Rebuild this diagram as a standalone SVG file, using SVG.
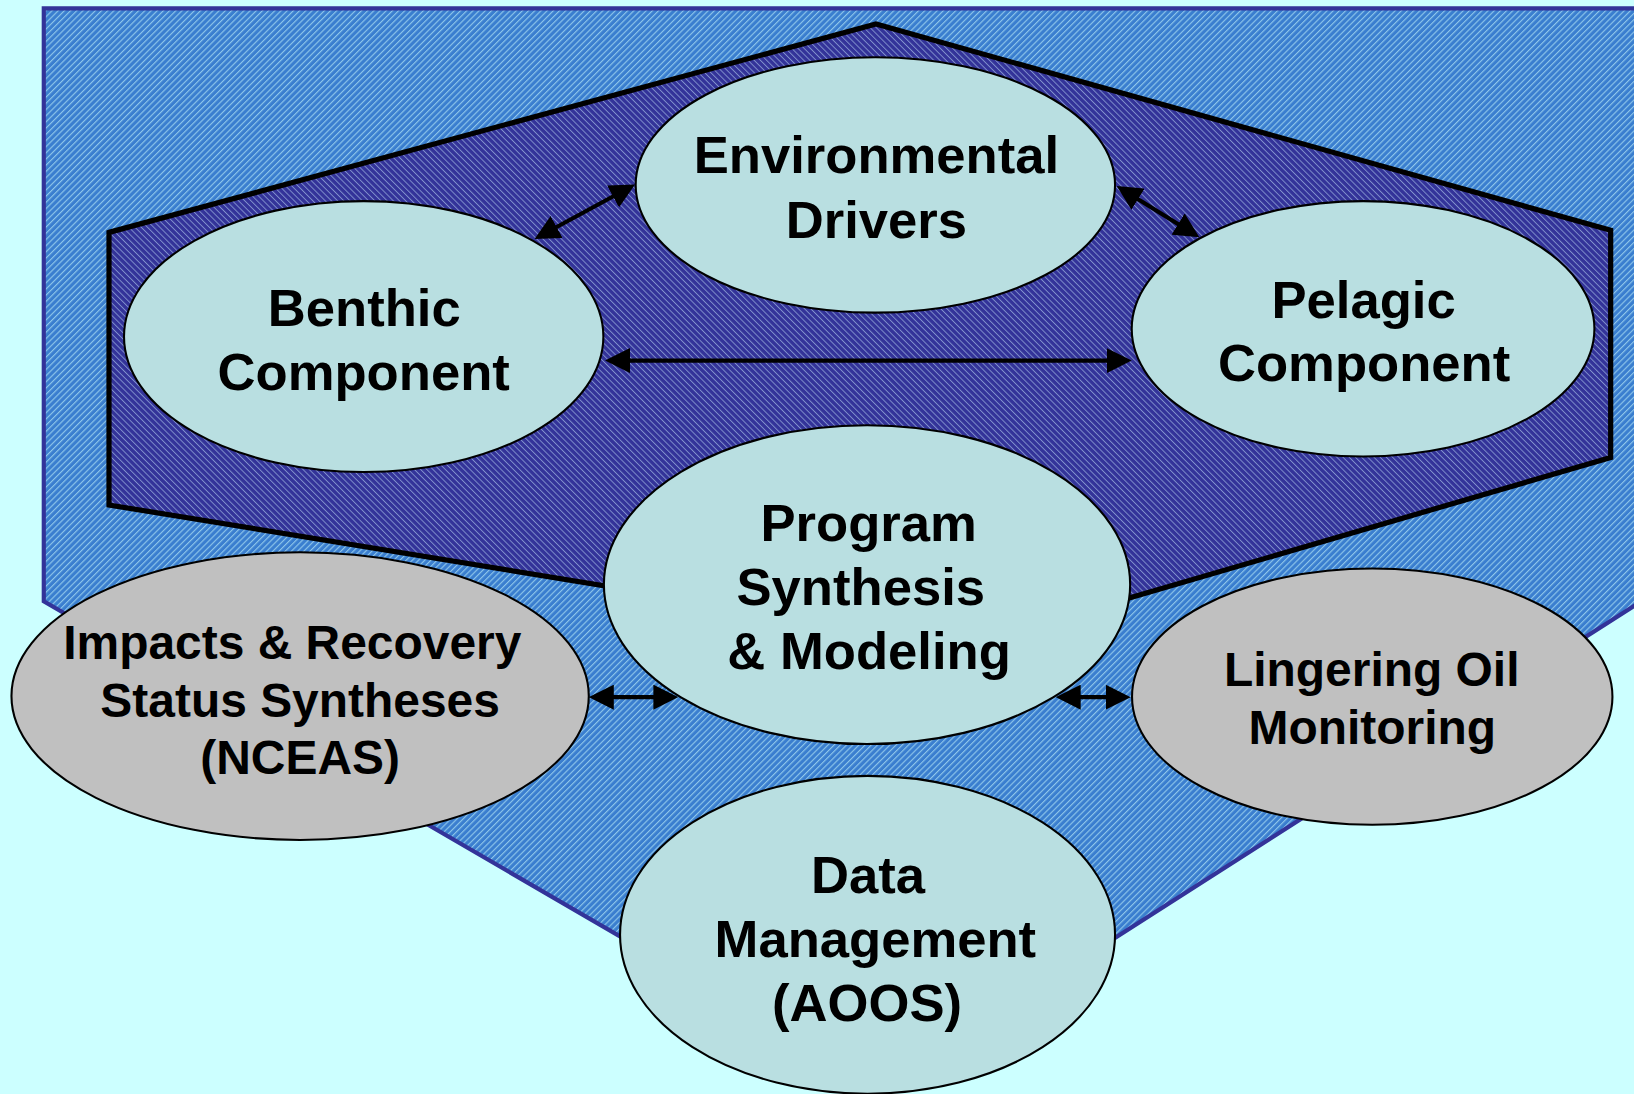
<svg xmlns="http://www.w3.org/2000/svg" width="1634" height="1094" viewBox="0 0 1634 1094">
  <defs>
    <pattern id="hatchOuter" patternUnits="userSpaceOnUse" width="4.2" height="10" patternTransform="rotate(45)">
      <rect width="4.2" height="10" fill="#3a7ecf"/>
      <rect x="0" width="1.1" height="10" fill="#8ec6ea"/>
    </pattern>
    <pattern id="hatchInner" patternUnits="userSpaceOnUse" width="4.2" height="10" patternTransform="rotate(-45)">
      <rect width="4.2" height="10" fill="#333399"/>
      <rect x="0" width="0.9" height="10" fill="#8090cc"/>
    </pattern>
    <marker id="arrow" viewBox="0 0 24 24" refX="18" refY="12" markerWidth="24" markerHeight="24" markerUnits="userSpaceOnUse" orient="auto-start-reverse">
      <path d="M0,0 L24,12 L0,24 Z" fill="#000"/>
    </marker>
  </defs>
  <style>
    .blue { fill: #b9dfe1; stroke: #000; stroke-width: 2; }
    .gray { fill: #c0c0c0; stroke: #000; stroke-width: 2; }
    .lbl { font-family: "Liberation Sans", Arial, sans-serif; font-weight: bold; fill: #000; text-anchor: middle; }
    .big { font-size: 50.5px; }
    .small { font-size: 46px; }
    .conn { stroke: #000; stroke-width: 4; fill: none; marker-start: url(#arrow); marker-end: url(#arrow); }
  </style>
  <rect x="0" y="0" width="1634" height="1094" fill="#ccffff"/>
  <g transform="scale(1.0421)">
    <g id="backdrop">
      <polygon points="42,8 1600,8 1600,561 845,1044 42,577" fill="url(#hatchOuter)" stroke="#333399" stroke-width="4" stroke-linejoin="miter"/>
      <polygon points="104.6,223 840.6,23 1545.6,221 1545.6,439 929,619 104.6,484.6" fill="url(#hatchInner)" stroke="#000" stroke-width="5" stroke-linejoin="miter"/>
    </g>

    <g id="node-environmental">
      <ellipse class="blue" cx="840" cy="177.5" rx="230" ry="122.5"/>
      <text class="lbl big" x="841" y="166">Environmental</text>
      <text class="lbl big" x="841" y="228">Drivers</text>
    </g>
    <g id="node-benthic">
      <ellipse class="blue" cx="349" cy="323" rx="230" ry="130"/>
      <text class="lbl big" x="349.5" y="313">Benthic</text>
      <text class="lbl big" x="349" y="374">Component</text>
    </g>
    <g id="node-pelagic">
      <ellipse class="blue" cx="1308" cy="315.5" rx="222" ry="122.5"/>
      <text class="lbl big" x="1308.5" y="305">Pelagic</text>
      <text class="lbl big" x="1309" y="366">Component</text>
    </g>
    <g id="node-program">
      <ellipse class="blue" cx="832" cy="561" rx="252.5" ry="153"/>
      <text class="lbl big" x="833.6" y="519">Program</text>
      <text class="lbl big" x="826" y="580.6">Synthesis</text>
      <text class="lbl big" x="834" y="642.3">&amp; Modeling</text>
    </g>
    <g id="node-impacts">
      <ellipse class="gray" cx="288" cy="668" rx="277" ry="138"/>
      <text class="lbl small" x="280.5" y="632.5">Impacts &amp; Recovery</text>
      <text class="lbl small" x="288" y="688">Status Syntheses</text>
      <text class="lbl small" x="288" y="743">(NCEAS)</text>
    </g>
    <g id="node-lingering">
      <ellipse class="gray" cx="1316.8" cy="668.5" rx="230.5" ry="123"/>
      <text class="lbl small" x="1316.3" y="658.5">Lingering Oil</text>
      <text class="lbl small" x="1316.8" y="713.5">Monitoring</text>
    </g>
    <g id="node-data">
      <ellipse class="blue" cx="832.5" cy="897" rx="237.5" ry="152.5"/>
      <text class="lbl big" x="833" y="857">Data</text>
      <text class="lbl big" x="840" y="918.5">Management</text>
      <text class="lbl big" x="832" y="979.5">(AOOS)</text>
    </g>

    <g id="connectors">
      <line class="conn" x1="518.3" y1="226.5" x2="604.1" y2="179.9"/>
      <line class="conn" x1="1076.7" y1="181.7" x2="1145.8" y2="224.5"/>
      <line class="conn" x1="586.6" y1="346" x2="1080" y2="346"/>
      <line class="conn" x1="571" y1="669" x2="645" y2="669"/>
      <line class="conn" x1="1019" y1="669" x2="1079" y2="669"/>
    </g>
  </g>
</svg>
